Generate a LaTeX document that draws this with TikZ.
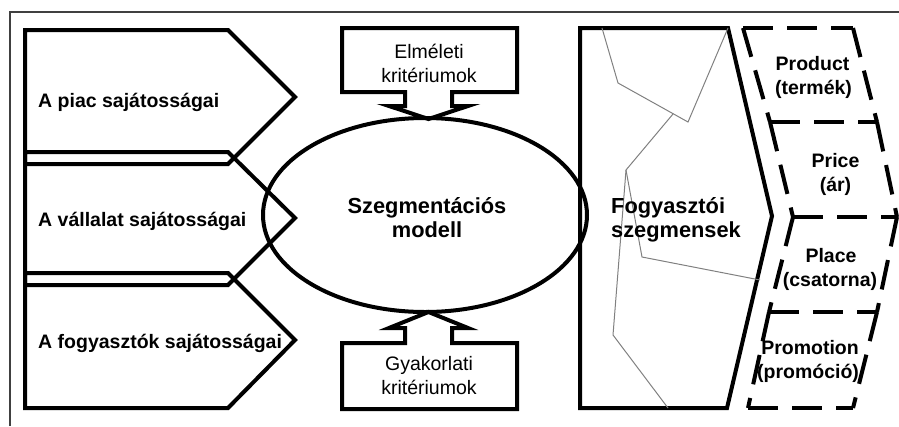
\documentclass[tikz,border=0pt]{standalone}
\usepackage{fontspec}
\setmainfont{Liberation Sans}
\begin{document}
\begin{tikzpicture}[x=1pt,y=-1pt,
  shapeline/.style={draw=black, line width=4pt, line join=miter, miter limit=10},
  dashline/.style={draw=black, line width=4pt, dash pattern=on 30pt off 14pt},
  grayline/.style={draw=black!50, line width=1pt},
  frameline/.style={draw=black!75, line width=1.3pt},
  boldtxt/.style={font=\bfseries\fontsize{19.5}{24}\selectfont, inner sep=0pt},
  regtxt/.style={font=\fontsize{19.5}{24}\selectfont, inner sep=0pt},
  bigtxt/.style={font=\bfseries\fontsize{21.8}{24}\selectfont, inner sep=0pt}]
\useasboundingbox (0,0) rectangle (899,426);
% frame
\draw[frameline] (10,426) -- (10,12) -- (899,12);
% left pentagons
\draw[shapeline] (25,30) -- (228,30) -- (295,97) -- (228,164) -- (25,164) -- cycle;
\draw[shapeline] (25,152) -- (228,152) -- (295,218) -- (228,285) -- (25,285) -- cycle;
\draw[shapeline] (25,273) -- (228,273) -- (295,340) -- (228,408) -- (25,408) -- cycle;
\node[boldtxt, anchor=base west] (p1) at (38,107) {A piac sajátosságai};
\node[boldtxt, anchor=base west] (p2) at (38,226) {A vállalat sajátosságai};
\node[boldtxt, anchor=base west] (p3) at (38,348) {A fogyasztók sajátosságai};
% ellipse
\draw[shapeline] (425,215) ellipse [x radius=162pt, y radius=97pt];
\node[bigtxt, anchor=base] (s1) at (427,213) {Szegmentációs};
\node[bigtxt, anchor=base] (s2) at (427,237) {modell};
% top criteria
\draw[shapeline] (342,28) -- (517,28) -- (517,92) -- (452,92) -- (452,106) -- (468,106) -- (428.5,119) -- (389,106) -- (405,106) -- (405,92) -- (342,92) -- cycle;
\node[regtxt, anchor=base] (e1) at (429,58) {Elméleti};
\node[regtxt, anchor=base] (e2) at (429,82) {kritériumok};
% bottom criteria
\draw[shapeline] (342,409) -- (517,409) -- (517,343) -- (452,343) -- (452,328) -- (468,328) -- (428.5,312) -- (389,328) -- (405,328) -- (405,343) -- (342,343) -- cycle;
\node[regtxt, anchor=base] (g1) at (429,370) {Gyakorlati};
\node[regtxt, anchor=base] (g2) at (429,394) {kritériumok};
% right shape
\draw[shapeline] (580,28) -- (728,28) -- (772,216) -- (727,408) -- (580,408) -- cycle;
\draw[grayline] (602,28) -- (618,83) -- (688,122) -- (728,28);
\draw[grayline] (673,114) -- (626,170);
\draw[grayline] (626,170) -- (613,335) -- (668,408);
\draw[grayline] (626,170) -- (642,257) -- (760,280);
\node[bigtxt, anchor=base west] (f1) at (611,213) {Fogyasztói};
\node[bigtxt, anchor=base west] (f2) at (611,237) {szegmensek};
% dashed 4P
\coordinate (L0) at (743,28);
\coordinate (L1) at (770,122);
\coordinate (L2) at (793,217);
\coordinate (L3) at (769,312);
\coordinate (L4) at (748,408);
\coordinate (R0) at (853,28);
\coordinate (R1) at (877,122);
\coordinate (R2) at (897,217);
\coordinate (R3) at (877,312);
\coordinate (R4) at (853,408);
\foreach \i in {0,...,4} {\draw[dashline] (L\i) -- (R\i);}
\foreach \i/\j in {0/1,1/2,2/3,3/4} {
  \draw[dashline] (L\i) -- (L\j);
  \draw[dashline] (R\i) -- (R\j);
}
\node[boldtxt, anchor=base] (m1a) at (812.5,70) {Product};
\node[boldtxt, anchor=base] (m1b) at (813.5,94) {(termék)};
\node[boldtxt, anchor=base] (m2a) at (835.5,167) {Price};
\node[boldtxt, anchor=base] (m2b) at (835.5,191) {(ár)};
\node[boldtxt, anchor=base] (m3a) at (831,262) {Place};
\node[boldtxt, anchor=base] (m3b) at (830,286) {(csatorna)};
\node[boldtxt, anchor=base] (m4a) at (810,354) {Promotion};
\node[boldtxt, anchor=base] (m4b) at (808,378) {(promóció)};
\end{tikzpicture}
\end{document}
